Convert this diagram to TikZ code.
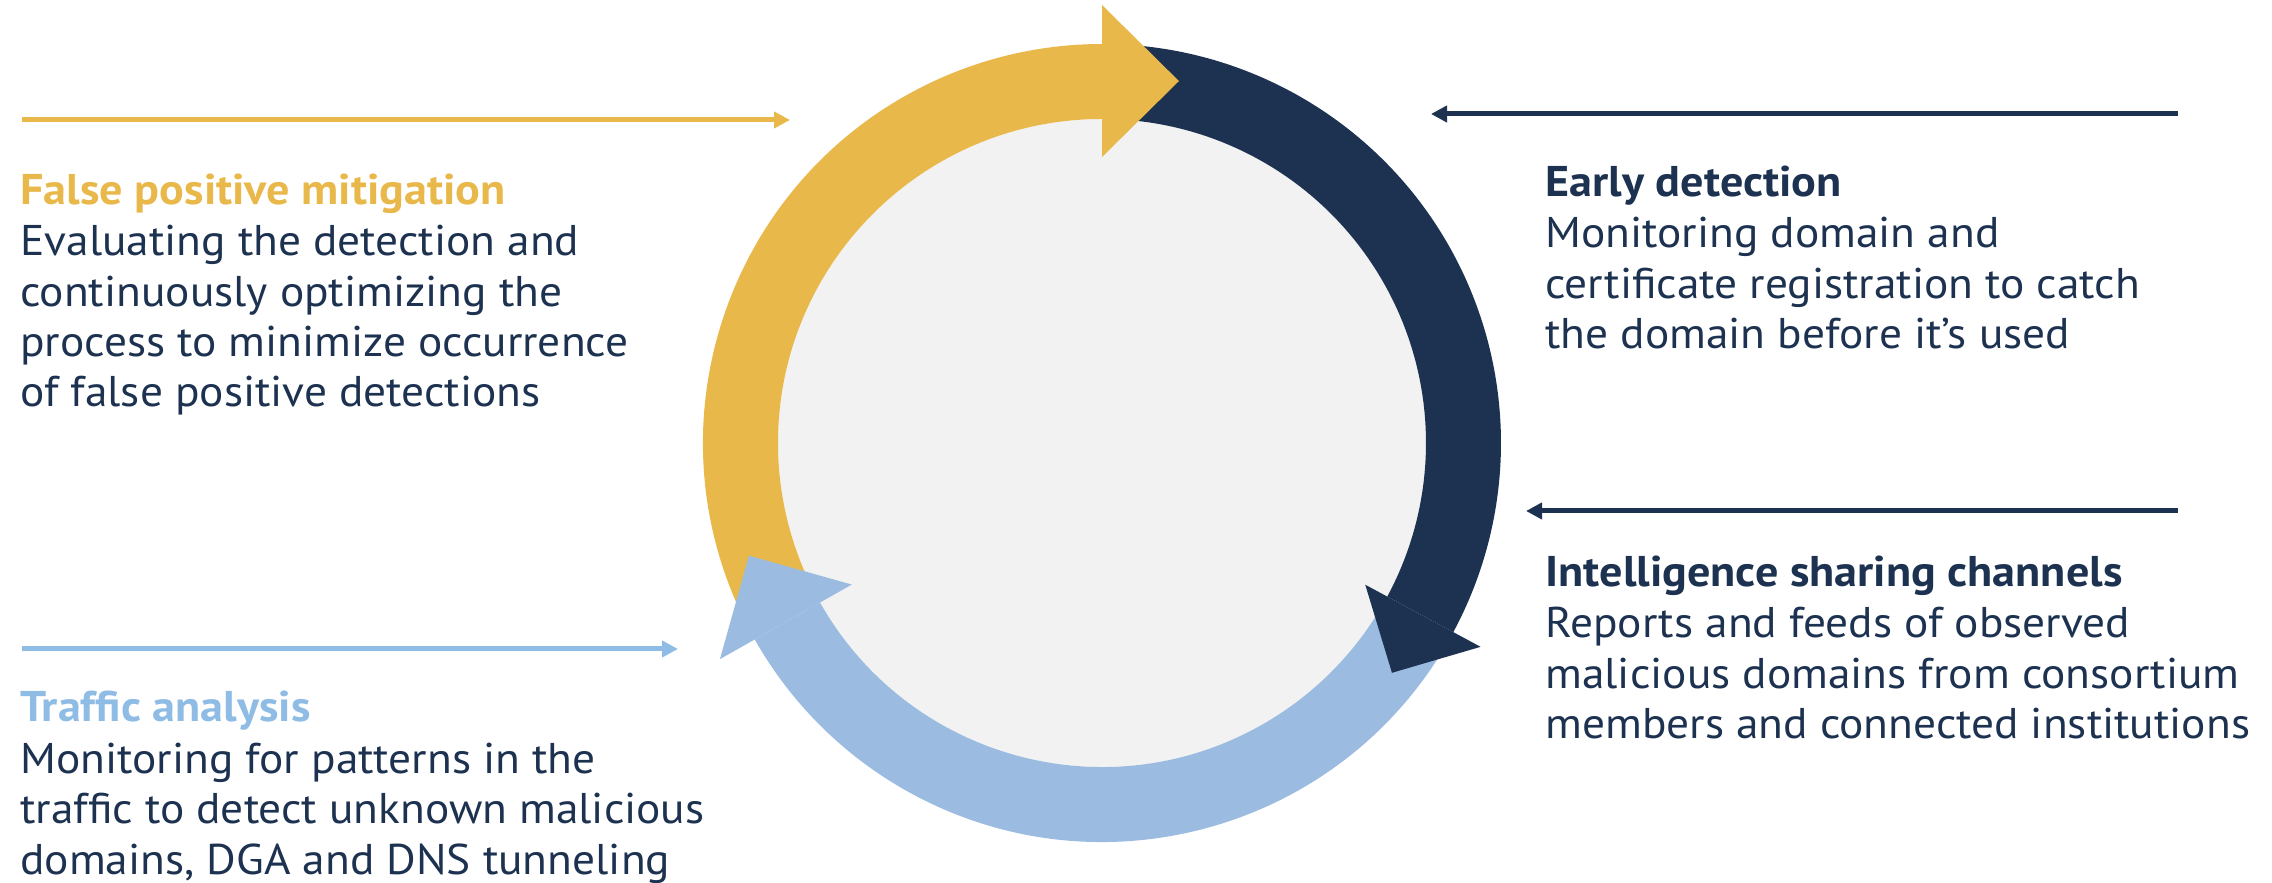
\documentclass[tikz,border=0pt]{standalone}
\usepackage{fontspec}
\setmainfont{PT Sans}[FakeStretch=1.055, BoldFeatures={FakeStretch=1.073}]
\usetikzlibrary{arrows.meta}
\definecolor{ringyel}{HTML}{E9B84A}
\definecolor{ringnavy}{HTML}{1D3250}
\definecolor{ringblue}{HTML}{9BBBE0}
\definecolor{headblue}{HTML}{8EBCE4}
\definecolor{lineblue}{HTML}{8EBCE4}
\definecolor{innergray}{HTML}{F2F2F2}
\begin{document}
\begin{tikzpicture}[x=0.5pt,y=0.5pt,
  txt/.style={anchor=base west, inner sep=0pt, font=\fontsize{21.5}{26}\selectfont, text=ringnavy},
  head/.style={anchor=base west, inner sep=0pt, font=\fontsize{21.5}{26}\selectfont\bfseries},
  feed/.style={line width=2.5pt, -{Triangle[length=8pt,width=8pt]}}]
\useasboundingbox (0,0) rectangle (2272,883);
\coordinate (C) at (1102,440);
\begin{scope}[shift={(C)}]
  \fill[innergray] (0,0) circle[radius=324];
  % ring bodies
  \fill[ringyel] (206:399) arc[start angle=206,end angle=90,radius=399] -- (90:324) arc[start angle=90,end angle=206,radius=324] -- cycle;
  \fill[ringnavy] (86:399) arc[start angle=86,end angle=-28.3,radius=399] -- (-28.3:324) arc[start angle=-28.3,end angle=86,radius=324] -- cycle;
  \fill[ringblue] (-30:399) arc[start angle=-30,end angle=-150.5,radius=399] -- (-150.5:324) arc[start angle=-150.5,end angle=-30,radius=324] -- cycle;
  % ring heads
  \fill[ringyel] (90:438) -- (78:370) -- (90:286) -- cycle;
  \fill[ringnavy] (-28.3:430) -- (-38.4:370) -- (-28.3:299) -- cycle;
  \fill[ringblue] (-150.5:439) -- (-162.3:370.6) -- (-150.5:287.5) -- cycle;
\end{scope}

% feed arrows
\coordinate (ya) at (22,763);   \coordinate (yb) at (790,763);
\coordinate (da) at (2178,769); \coordinate (db) at (1431,769);
\coordinate (ea) at (2178,372); \coordinate (eb) at (1526,372);
\coordinate (ba) at (22,234);   \coordinate (bb) at (678,234);
\draw[feed, ringyel] (ya) -- (yb);
\draw[feed, ringnavy] (da) -- (db);
\draw[feed, ringnavy] (ea) -- (eb);
\draw[feed, lineblue] (ba) -- (bb);

% False positive mitigation
\node[head, text=ringyel] (fph) at (20,678) {False positive mitigation};
\node[txt] (fp1) at (20,627) {Evaluating the detection and};
\node[txt] (fp2) at (20,576) {continuously optimizing the};
\node[txt] (fp3) at (20,526) {process to minimize occurrence};
\node[txt] (fp4) at (20,476) {of false positive detections};

% Early detection
\node[head, text=ringnavy] (edh) at (1545,686) {Early detection};
\node[txt] (ed1) at (1545,635) {Monitoring domain and};
\node[txt] (ed2) at (1545,584) {certificate registration to catch};
\node[txt] (ed3) at (1545,534) {the domain before it’s used};

% Intelligence sharing channels
\node[head, text=ringnavy] (ish) at (1545,296) {Intelligence sharing channels};
\node[txt] (is1) at (1545,245) {Reports and feeds of observed};
\node[txt] (is2) at (1545,194) {malicious domains from consortium};
\node[txt] (is3) at (1545,144) {members and connected institutions};

% Traffic analysis
\node[head, text=headblue] (tah) at (20,161) {Traffic analysis};
\node[txt] (ta1) at (20,109) {Monitoring for patterns in the};
\node[txt] (ta2) at (20,59) {traffic to detect unknown malicious};
\node[txt] (ta3) at (20,8) {domains, DGA and DNS tunneling};
\end{tikzpicture}
\end{document}
